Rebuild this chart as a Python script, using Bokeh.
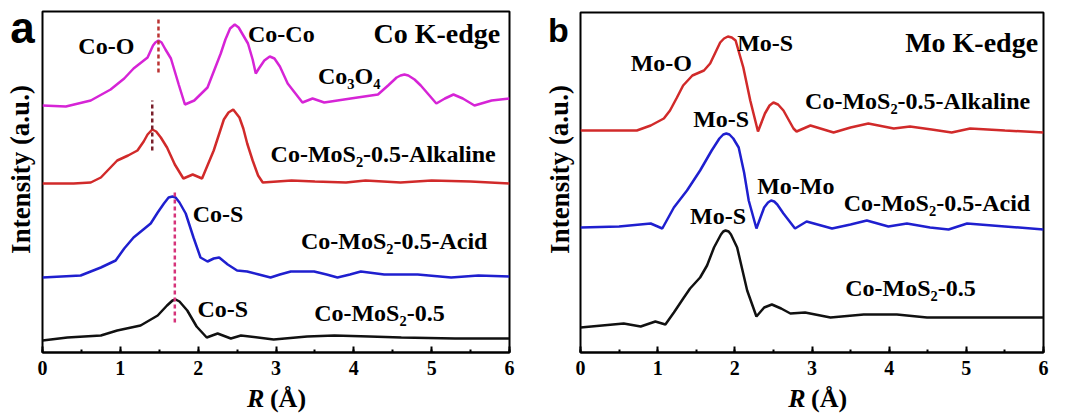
from bokeh.plotting import figure
from bokeh.layouts import row, column
from bokeh.models import Label, Range1d, SingleIntervalTicker
from bokeh.embed import file_html
from bokeh.resources import INLINE

# ---------------- data: panel a (Co K-edge) ----------------
a_co3o4_r = [0, 0.3, 0.62, 0.875, 1.05, 1.17, 1.35, 1.42, 1.45, 1.49, 1.53, 1.58, 1.65, 1.75, 1.83, 1.95, 2.12, 2.29, 2.35, 2.41, 2.47, 2.52, 2.58, 2.64, 2.7, 2.74, 2.78, 2.85, 2.92, 2.98, 3.05, 3.15, 3.34, 3.47, 3.62, 3.96, 4.31, 4.44, 4.55, 4.6, 4.65, 4.7, 4.78, 4.86, 5.06, 5.17, 5.28, 5.4, 5.55, 5.77, 6.0]
a_co3o4_y = [247, 246, 252, 263, 274, 284, 295, 307, 310, 312, 310, 303, 294, 268, 248, 252, 265, 299, 313, 324, 328, 325, 317, 309, 293, 279, 284, 292, 296, 294, 286, 269, 250, 254, 250, 254, 258, 267, 275, 277, 278, 277, 273, 267, 249, 254, 258, 254, 247, 252, 254]

a_alk_r = [0, 0.4, 0.62, 0.75, 0.96, 1.1, 1.22, 1.3, 1.35, 1.41, 1.46, 1.52, 1.6, 1.7, 1.81, 1.93, 2.05, 2.2, 2.33, 2.39, 2.45, 2.53, 2.58, 2.63, 2.7, 2.77, 2.83, 3.2, 3.5, 3.9, 4.15, 4.6, 5.0, 5.5, 6.0]
a_alk_y = [169, 169, 170, 175, 192, 197, 202, 211, 218, 223, 221, 215, 205, 188, 174, 178, 174, 202, 233, 240, 243, 235, 224, 209, 192, 177, 170, 172, 171, 170, 172, 170, 172, 171, 169]

a_acid_r = [0, 0.49, 0.75, 0.94, 1.05, 1.17, 1.28, 1.39, 1.48, 1.56, 1.62, 1.67, 1.71, 1.76, 1.84, 1.94, 2.03, 2.12, 2.2, 2.27, 2.38, 2.5, 2.63, 2.78, 2.93, 3.05, 3.19, 3.49, 3.65, 3.79, 3.95, 4.09, 4.39, 4.82, 5.25, 5.6, 6.0]
a_acid_y = [75, 77, 85, 92, 104, 115, 122, 129, 140, 149, 155, 156, 155, 150, 139, 115, 95, 91, 94, 95, 88, 82, 81, 78, 75, 78, 81, 81, 78, 75, 78, 81, 78, 78, 75, 77, 76]

a_pris_r = [0, 0.32, 0.75, 0.96, 1.26, 1.48, 1.6, 1.67, 1.71, 1.76, 1.86, 1.98, 2.11, 2.25, 2.42, 2.55, 2.97, 3.4, 3.75, 4.2, 4.61, 5.3, 6.0]
a_pris_y = [12, 15, 17, 22, 27, 37, 47, 52, 53, 51, 42, 26, 15, 19, 14, 17, 13, 16, 17, 16, 15, 14, 14]

# dashed guide lines, panel a: x, lower y, upper y
a_guide_x = [1.49, 1.41, 1.70]
a_guide_y0 = [280, 202, 30]
a_guide_y1 = [334, 252, 162]

# ---------------- data: panel b (Mo K-edge) ----------------
b_alk_r = [0, 0.73, 0.91, 1.08, 1.16, 1.25, 1.33, 1.45, 1.6, 1.68, 1.81, 1.86, 1.91, 1.96, 2.01, 2.11, 2.2, 2.3, 2.39, 2.45, 2.5, 2.56, 2.63, 2.76, 2.8, 2.98, 3.28, 3.5, 3.73, 4.06, 4.27, 4.55, 4.81, 5.05, 5.5, 6.0]
b_alk_y = [222, 222, 227, 234, 242, 255, 267, 277, 282, 289, 310, 314, 316, 315, 312, 285, 252, 221, 239, 247, 250, 248, 242, 224, 221, 227, 220, 225, 229, 224, 226, 223, 220, 224, 222, 220]

b_acid_r = [0, 0.5, 0.91, 1.06, 1.21, 1.38, 1.55, 1.7, 1.8, 1.85, 1.89, 1.93, 1.98, 2.05, 2.12, 2.18, 2.28, 2.38, 2.43, 2.47, 2.51, 2.55, 2.63, 2.78, 2.93, 3.26, 3.5, 3.71, 3.99, 4.23, 4.53, 4.77, 5.01, 5.5, 6.0]
b_acid_y = [125, 126, 129, 124, 145, 162, 182, 202, 214, 218, 219, 218, 214, 205, 180, 152, 124, 145, 150, 152, 151, 148, 139, 124, 131, 124, 128, 132, 126, 129, 125, 123, 129, 126, 123]

b_pris_r = [0, 0.56, 0.78, 0.97, 1.1, 1.21, 1.34, 1.42, 1.55, 1.64, 1.73, 1.82, 1.85, 1.88, 1.92, 1.95, 2.03, 2.16, 2.28, 2.38, 2.48, 2.6, 2.72, 2.91, 3.24, 3.67, 4.1, 4.49, 5.0, 6.0]
b_pris_y = [25, 29, 26, 31, 28, 40, 55, 64, 75, 87, 105, 118, 121, 122, 121, 118, 105, 62, 36, 45, 48, 44, 39, 40, 35, 38, 38, 35, 35, 35]

SERIF = "Liberation Serif"
SANS = "Liberation Sans"

MAGENTA = "#d624d6"
RED = "#d12a2a"
BLUE = "#1f1fcf"
BLACK = "#111111"


def make_fig(width, bl, br, bt, ytop):
    p = figure(width=width, height=385, output_backend="svg", toolbar_location=None,
               x_range=Range1d(0, 6), y_range=Range1d(0, ytop),
               min_border_left=bl, min_border_right=br, min_border_top=bt, min_border_bottom=33)
    p.grid.visible = False
    p.yaxis.visible = False
    p.outline_line_color = "black"
    p.outline_line_width = 2
    p.outline_line_alpha = 1
    ax = p.xaxis[0]
    ax.ticker = SingleIntervalTicker(interval=1, num_minor_ticks=2)
    ax.axis_line_width = 2
    ax.major_tick_in = 6
    ax.major_tick_out = 0
    ax.minor_tick_in = 3
    ax.minor_tick_out = 0
    ax.major_tick_line_width = 2
    ax.minor_tick_line_width = 2
    ax.major_label_text_font = SERIF
    ax.major_label_text_font_style = "bold"
    ax.major_label_text_font_size = "20px"
    ax.major_label_text_color = "black"
    ax.major_label_standoff = 8
    return p


def strip(width, height):
    s = figure(width=width, height=height, output_backend="svg", toolbar_location=None,
               x_range=Range1d(0, width), y_range=Range1d(height, 0),
               x_axis_type=None, y_axis_type=None,
               min_border_left=0, min_border_right=0, min_border_top=0, min_border_bottom=0)
    s.grid.visible = False
    s.outline_line_color = None
    return s


def txt(p, x, y, s, size="24px", align="left", font=SERIF, style="bold", angle=0):
    p.add_layout(Label(x=x, y=y, text=s, text_font=font, text_font_style=style,
                       text_font_size=size, text_align=align, text_baseline="middle",
                       text_color="black", angle=angle))


# ---------------- panel a ----------------
pa = make_fig(503, 5, 31, 11, 341)
pa.line(a_co3o4_r, a_co3o4_y, line_color=MAGENTA, line_width=2.5)
pa.line(a_alk_r, a_alk_y, line_color=RED, line_width=2.5)
pa.line(a_acid_r, a_acid_y, line_color=BLUE, line_width=2.5)
pa.line(a_pris_r, a_pris_y, line_color=BLACK, line_width=2.5)
pa.segment(x0=a_guide_x, y0=a_guide_y0, x1=a_guide_x, y1=a_guide_y1,
           line_color=["#bb3333", "#7a1f2b", "#d6337a"], line_width=2.5, line_dash="4 3")

txt(pa, 5.88, 319, "Co K-edge", size="28px", align="right")
txt(pa, 0.46, 307, "Co-O")
txt(pa, 2.64, 319, "Co-Co")
txt(pa, 3.54, 277, "Co₃O₄")
txt(pa, 2.93, 199, "Co-MoS₂-0.5-Alkaline")
txt(pa, 1.93, 139, "Co-S")
txt(pa, 3.32, 112, "Co-MoS₂-0.5-Acid")
txt(pa, 1.99, 44, "Co-S")
txt(pa, 3.49, 40, "Co-MoS₂-0.5")

sa = strip(37, 414)
txt(sa, 22, 27, "a", size="44px", font=SANS, align="center")
txt(sa, 20, 169, "Intensity (a.u.)", size="27px", align="center", angle=1.5708)

sax = strip(503, 29)
txt(sax, 239, 13, "R", size="26px", align="right", style="bold italic")
txt(sax, 245, 13, "(Å)", size="26px", align="left")

# ---------------- panel b ----------------
pb = make_fig(500, 5, 32, 12, 340)
pb.line(b_alk_r, b_alk_y, line_color=RED, line_width=2.5)
pb.line(b_acid_r, b_acid_y, line_color=BLUE, line_width=2.5)
pb.line(b_pris_r, b_pris_y, line_color=BLACK, line_width=2.5)

txt(pb, 5.93, 310, "Mo K-edge", size="28px", align="right")
txt(pb, 0.65, 290, "Mo-O")
txt(pb, 2.03, 310, "Mo-S")
txt(pb, 2.91, 252, "Co-MoS₂-0.5-Alkaline")
txt(pb, 1.46, 234, "Mo-S")
txt(pb, 2.29, 167, "Mo-Mo")
txt(pb, 3.41, 150, "Co-MoS₂-0.5-Acid")
txt(pb, 1.42, 137, "Mo-S")
txt(pb, 3.43, 65, "Co-MoS₂-0.5")

sb = strip(35, 414)
txt(sb, 18, 29, "b", size="34px", font=SANS, align="center")
txt(sb, 19, 169, "Intensity (a.u.)", size="27px", align="center", angle=1.5708)

sbx = strip(500, 29)
txt(sbx, 243, 13, "R", size="26px", align="right", style="bold italic")
txt(sbx, 249, 13, "(Å)", size="26px", align="left")

layout = row(sa, column(pa, sax), sb, column(pb, sbx))
open("out.html", "w").write(file_html(layout, INLINE))
